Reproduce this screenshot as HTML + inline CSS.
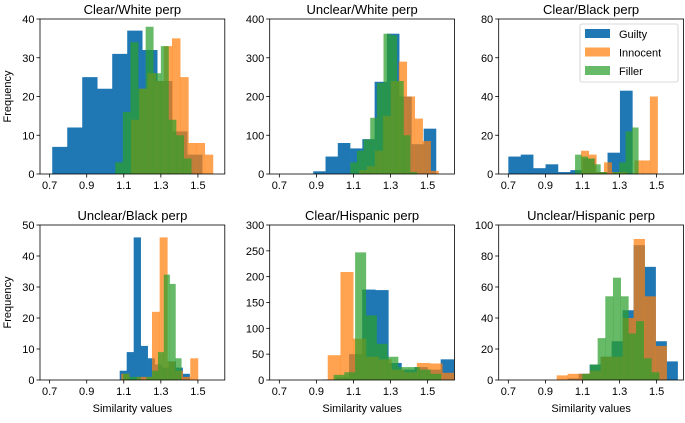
<!DOCTYPE html>
<html><head><meta charset="utf-8"><style>
body{margin:0;background:#fff;}
svg text{font-family:"Liberation Sans","DejaVu Sans",sans-serif;fill:#000;}
</style></head><body>
<svg id="chart" width="685" height="418" xmlns="http://www.w3.org/2000/svg"></svg>
<script>
const panelTitles = ["Clear/White perp","Unclear/White perp","Clear/Black perp","Unclear/Black perp","Clear/Hispanic perp","Unclear/Hispanic perp"];
const yMaxes = [40,400,80,50,300,100];
const yStepCounts = [4,4,4,5,6,5];
const xTickLabels = ["0.7","0.9","1.1","1.3","1.5"];
const xTickValues = [0.7,0.9,1.1,1.3,1.5];
const seriesNames = ["Guilty","Innocent","Filler"];
// per panel: [start, end] of histogram range for each series
const guiltyRange = [[0.714,1.523],[0.883,1.545],[0.700,1.369],[1.078,1.455],[0.935,1.641],[1.020,1.613]];
const innocentRange = [[1.139,1.581],[1.130,1.559],[1.092,1.505],[1.087,1.500],[0.961,1.648],[0.961,1.554]];
const fillerRange = [[1.054,1.464],[1.083,1.441],[1.060,1.401],[1.096,1.410],[0.993,1.572],[1.099,1.513]];
const guiltyCounts = [
 [7,12,25,22,31,37,32,24,11,5],
 [7,45,80,66,90,238,362,200,77,117],
 [9,10,3,5,1,2,8,1,11,43],
 [3,9,46,11,7,5,4,6,4,2],
 [1,5,50,175,174,33,20,25,20,40],
 [1,4,10,15,25,45,87,73,25,12]];
const innocentCounts = [
 [14,22,26,24,33,35,25,8,8,5],
 [10,20,60,150,240,290,200,143,85,8],
 [12,10,1,6,1,1,0,7,7,40],
 [2,0,1,1,22,46,6,3,1,7],
 [48,209,80,45,40,20,15,33,32,14],
 [3,4,4,6,15,15,40,91,54,22]];
const fillerCounts = [
 [3,16,34,22,38,26,33,14,10,4],
 [30,60,89,145,235,362,358,240,100,5],
 [10,9,8,5,1,0,1,6,22,24],
 [2,1,1,0,1,3,9,34,31,7],
 [10,15,247,125,70,45,25,25,20,12],
 [4,10,27,54,66,54,30,38,14,5]];

const colors = ["#1f77b4","#ff7f0e","#2ca02c"];
const alphas = [1,0.72,0.72];
const xMin = 0.648, xMax = 1.645;
const colLeft = [40,269.7,498.7], pw = 184.8;
const rowTop = [19,225], ph = 155;
const svg = document.getElementById('chart');
const NS = "http://www.w3.org/2000/svg";
function mk(tag, attrs, parent){const e=document.createElementNS(NS,tag);for(const k in attrs)e.setAttribute(k,attrs[k]);(parent||svg).appendChild(e);return e;}

for(let p=0;p<6;p++){
  const L = colLeft[p%3], T = rowTop[Math.floor(p/3)];
  const g = mk('g',{});
  
  
  const xs = v => L + (v-xMin)/(xMax-xMin)*pw;
  const ys = v => T + ph - v/yMaxes[p]*ph;
  const clipId='clip'+p;
  const cp = mk('clipPath',{id:clipId},g); mk('rect',{x:L,y:T,width:pw,height:ph},cp);
  const bars = mk('g',{'clip-path':'url(#'+clipId+')'},g);
  const ranges=[guiltyRange,innocentRange,fillerRange], counts=[guiltyCounts,innocentCounts,fillerCounts];
  for(let s=0;s<3;s++){
    const [a,b]=ranges[s][p]; const c=counts[s][p]; const w=(b-a)/c.length;
    c.forEach((v,i)=>{
      if(v<=0) return;
      const r=mk('rect',{x:xs(a+i*w),y:ys(v),width:xs(a+(i+1)*w)-xs(a+i*w)+0.3,height:ys(0)-ys(v),fill:colors[s],'fill-opacity':alphas[s]},bars);
      
      
    });
  }
  mk('rect',{x:L,y:T,width:pw,height:ph,fill:'none',stroke:'#000','stroke-width':0.8},g);
  xTickValues.forEach((v,i)=>{
    mk('line',{x1:xs(v),x2:xs(v),y1:T+ph,y2:T+ph+3.5,stroke:'#000','stroke-width':0.8},g);
    const t=mk('text',{x:xs(v),y:T+ph+15,'font-size':11,'text-anchor':'middle'},g); t.textContent=xTickLabels[i];
    
    
  });
  const n=yStepCounts[p];
  for(let k=0;k<=n;k++){
    const v=yMaxes[p]*k/n;
    mk('line',{x1:L-3.5,x2:L,y1:ys(v),y2:ys(v),stroke:'#000','stroke-width':0.8},g);
    const t=mk('text',{x:L-5.5,y:ys(v)+4,'font-size':11,'text-anchor':'end'},g); t.textContent=String(Math.round(v));
    
    
  }
  const tt=mk('text',{x:L+pw/2,y:T-5,'font-size':13,'text-anchor':'middle'},g); tt.textContent=panelTitles[p];
  
  
  if(p%3===0){
    const yl=mk('text',{x:0,y:0,'font-size':11,'text-anchor':'middle',transform:'translate(11,'+(T+ph/2)+') rotate(-90)'},g); yl.textContent='Frequency';
    
    
  }
  if(p>=3){
    const xl=mk('text',{x:L+pw/2,y:412,'font-size':11,'text-anchor':'middle'},g); xl.textContent='Similarity values';
    
    
  }
}
// legend
const lg=mk('g',{});


mk('rect',{x:580,y:24,width:98,height:58,rx:2,fill:'#fff','fill-opacity':0.8,stroke:'#ccc','stroke-width':0.8},lg);
seriesNames.forEach((nm,i)=>{
  const y=29+i*18.5;
  const sw=mk('rect',{x:585,y:y,width:25,height:9,fill:colors[i],'fill-opacity':alphas[i]},lg);
  
  
  const t=mk('text',{x:619,y:y+9,'font-size':11},lg); t.textContent=nm;
  
  
});
</script>
</body></html>
